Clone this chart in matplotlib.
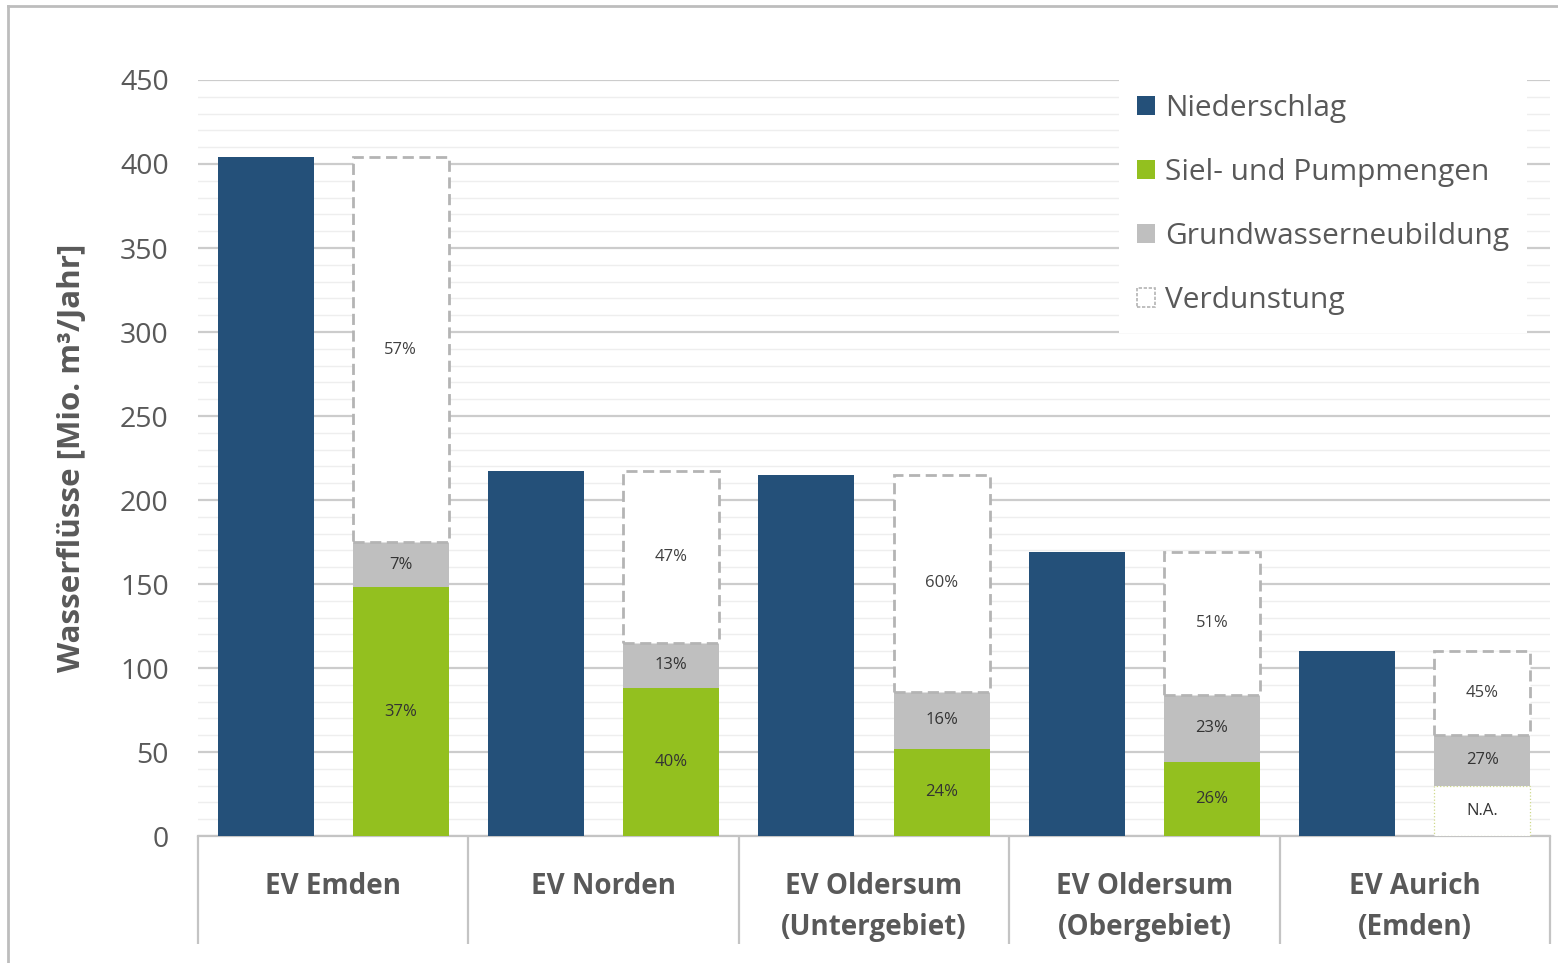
import numpy as np
import matplotlib
matplotlib.use("Agg")
import matplotlib.pyplot as plt
from matplotlib.patches import Patch
from matplotlib.ticker import MultipleLocator, FixedLocator

plt.rcParams['font.family'] = ['Open Sans', 'DejaVu Sans']

# --- data (Mio. m³/Jahr) ---
categories = ["EV Emden", "EV Norden", "EV Oldersum\n(Untergebiet)",
              "EV Oldersum\n(Obergebiet)", "EV Aurich\n(Emden)"]
niederschlag = [404, 217, 215, 169, 110]
siel_pump = [148, 88, 52, 44, 30]          # Aurich: no data (N.A.)
siel_available = [True, True, True, True, False]
grundwasser = [27, 27, 34, 40, 30]
verdunstung = [229, 102, 129, 85, 50]
pct_siel = ["37%", "40%", "24%", "26%", "N.A."]
pct_grund = ["7%", "13%", "16%", "23%", "27%"]
pct_verd = ["57%", "47%", "60%", "51%", "45%"]

c_blue = "#245079"
c_green = "#93c01f"
c_grey = "#bfbfbf"
c_edge = "#b4b4b4"
c_text = "#595959"

fig = plt.figure(figsize=(15.58, 9.63), dpi=100)
W, H = 1558, 963
ax = fig.add_axes([198 / W, 1 - 836 / H, (1550 - 198) / W, (836 - 80) / H])

x = np.arange(len(categories))
bw = 0.355
off = 0.25

ax.bar(x - off, niederschlag, bw, color=c_blue, zorder=3)

for i in range(len(categories)):
    xs = x[i] + off
    if siel_available[i]:
        ax.bar(xs, siel_pump[i], bw, color=c_green, zorder=3)
    else:
        ax.bar(xs, siel_pump[i], bw, color="white", edgecolor="#cfd98a",
               linestyle=":", linewidth=0.9, zorder=3)
    ax.bar(xs, grundwasser[i], bw, bottom=siel_pump[i], color=c_grey, zorder=3)
    ax.bar(xs, verdunstung[i], bw, bottom=siel_pump[i] + grundwasser[i],
           color="white", edgecolor=c_edge, linestyle=(0, (4, 2)),
           linewidth=2, zorder=3)
    ax.text(xs, siel_pump[i] / 2, pct_siel[i], ha="center", va="center",
            fontsize=12, color="#333333", zorder=4)
    ax.text(xs, siel_pump[i] + grundwasser[i] / 2, pct_grund[i],
            ha="center", va="center", fontsize=12, color="#333333", zorder=4)
    ax.text(xs, siel_pump[i] + grundwasser[i] + verdunstung[i] / 2, pct_verd[i],
            ha="center", va="center", fontsize=12, color="#404040", zorder=4)

ax.set_xlim(-0.5, len(categories) - 0.5)
ax.set_ylim(0, 450)
ax.yaxis.set_major_locator(MultipleLocator(50))
ax.yaxis.set_minor_locator(MultipleLocator(10))
ax.grid(axis="y", which="major", color="#cccccc", linewidth=1.6, zorder=0)
ax.grid(axis="y", which="minor", color="#eeeeee", linewidth=1.0, zorder=0)
ax.tick_params(axis="y", which="both", length=0, labelsize=20.5,
               labelcolor=c_text, pad=21)

# category box: long ticks at group boundaries, labels at centres
ax.xaxis.set_major_locator(FixedLocator(np.arange(len(categories) + 1) - 0.5))
ax.xaxis.set_minor_locator(FixedLocator(x))
ax.set_xticklabels([""] * (len(categories) + 1))
ax.set_xticklabels(categories, minor=True)
ax.tick_params(axis="x", which="major", length=78, width=1.6,
               color="#c4c4c4", direction="out")
ax.tick_params(axis="x", which="minor", length=0, pad=26, labelsize=20,
               labelcolor=c_text)
for lbl in ax.get_xticklabels(minor=True):
    lbl.set_fontweight("bold")
    lbl.set_linespacing(1.55)

for side in ["top", "right", "left"]:
    ax.spines[side].set_visible(False)
ax.spines["bottom"].set_color("#c4c4c4")
ax.spines["bottom"].set_linewidth(1.6)

ax.set_ylabel("Wasserflüsse [Mio. m³/Jahr]", fontsize=22.5, fontweight="bold",
              color=c_text, labelpad=24)

handles = [
    Patch(facecolor=c_blue, label="Niederschlag"),
    Patch(facecolor=c_green, label="Siel- und Pumpmengen"),
    Patch(facecolor=c_grey, label="Grundwasserneubildung"),
    Patch(facecolor="white", edgecolor=c_edge, linestyle=(0, (2, 1)),
          linewidth=1.2, label="Verdunstung"),
]
leg = fig.legend(handles=handles, loc="upper left",
                 bbox_to_anchor=(1104 / W, 1 - 61 / H), fontsize=21.5,
                 frameon=True, facecolor="white", edgecolor="none",
                 framealpha=1, fancybox=False, handlelength=0.6,
                 handleheight=0.6, handletextpad=0.35, labelspacing=1.17,
                 borderpad=0.6)
for t in leg.get_texts():
    t.set_color(c_text)
leg.set_zorder(10)

# outer frame
fig.add_artist(plt.Line2D([8 / W, 8 / W], [0, 1 - 6 / H], color="#bdbdbd",
                          linewidth=2, transform=fig.transFigure))
fig.add_artist(plt.Line2D([8 / W, 1], [1 - 6 / H, 1 - 6 / H], color="#bdbdbd",
                          linewidth=2, transform=fig.transFigure))

fig.savefig("out.png", dpi=100)
